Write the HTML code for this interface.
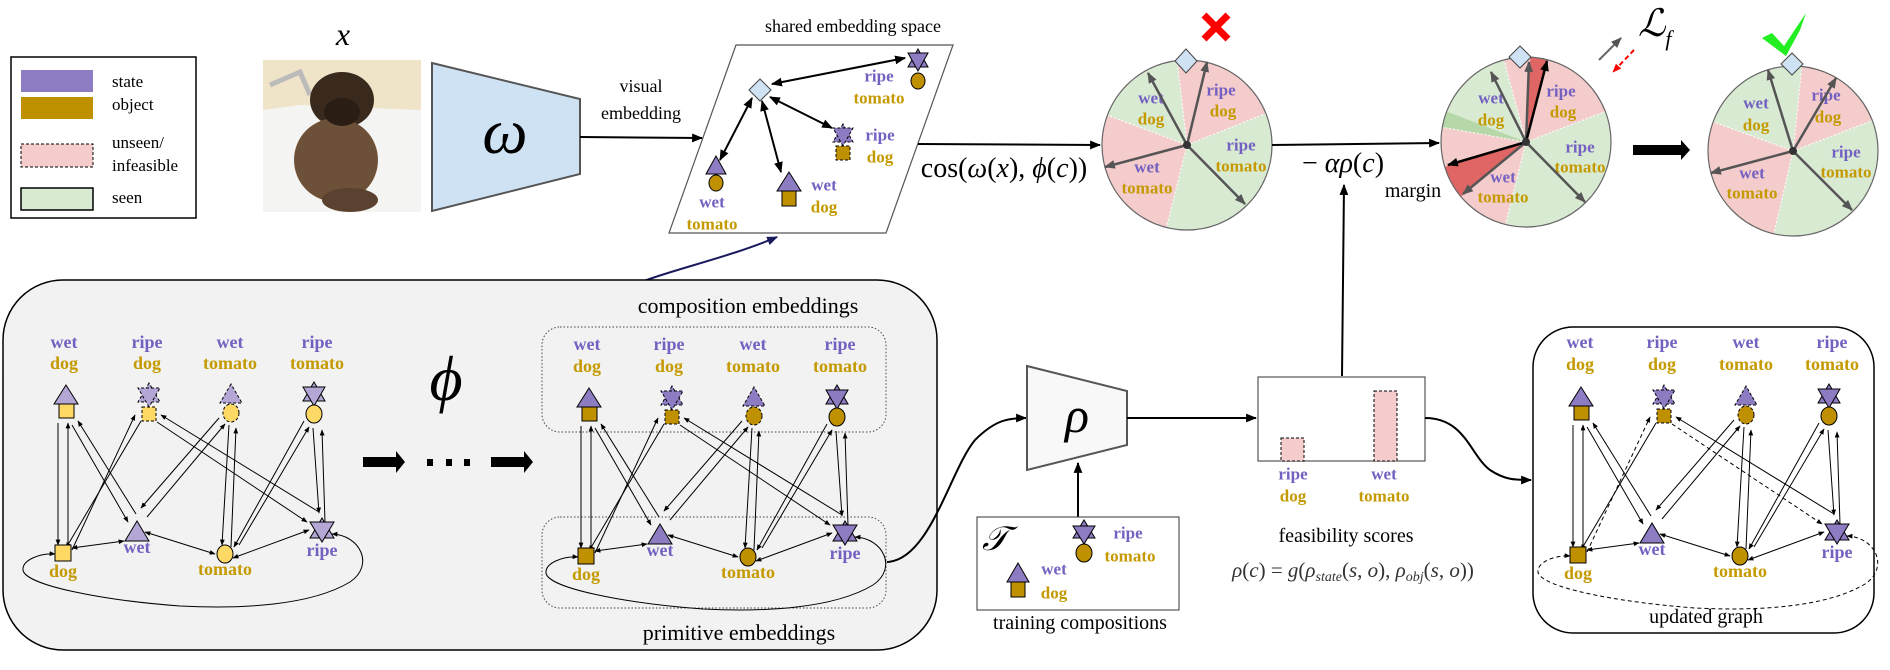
<!DOCTYPE html>
<html><head><meta charset="utf-8"><style>
html,body{margin:0;padding:0;background:#fff;width:1890px;height:670px;overflow:hidden}
svg{display:block}
.t{font-family:"Liberation Serif",serif}
.lb{font-family:"Liberation Serif",serif;font-weight:bold;font-size:18px;text-anchor:middle;dominant-baseline:central}
.p{fill:#7460c0}.g{fill:#c49a00}
.cl{font-family:"Liberation Serif",serif;font-weight:bold;font-size:17px;text-anchor:middle;dominant-baseline:central}
</style></head><body>
<svg width="1890" height="670" viewBox="0 0 1890 670" xmlns="http://www.w3.org/2000/svg">
<defs>
<marker id="ah" viewBox="0 0 10 10" refX="9" refY="5" markerWidth="6" markerHeight="6" markerUnits="userSpaceOnUse" orient="auto-start-reverse"><path d="M0,1 L10,5 L0,9 z" fill="#000"/></marker>
<marker id="am" viewBox="0 0 10 10" refX="9" refY="5" markerWidth="11" markerHeight="11" markerUnits="userSpaceOnUse" orient="auto-start-reverse"><path d="M0,1 L10,5 L0,9 z" fill="#000"/></marker>
<marker id="an" viewBox="0 0 10 10" refX="9" refY="5" markerWidth="11" markerHeight="11" markerUnits="userSpaceOnUse" orient="auto-start-reverse"><path d="M0,1 L10,5 L0,9 z" fill="#1a1a5e"/></marker>
<marker id="ag" viewBox="0 0 10 10" refX="9" refY="5" markerWidth="11" markerHeight="11" markerUnits="userSpaceOnUse" orient="auto"><path d="M0,1 L10,5 L0,9 z" fill="#555"/></marker>
<marker id="ar" viewBox="0 0 10 10" refX="9" refY="5" markerWidth="9" markerHeight="9" markerUnits="userSpaceOnUse" orient="auto"><path d="M0,1 L10,5 L0,9 z" fill="#f00"/></marker>
<g id="edges" stroke="#000" stroke-width="1" fill="none">
<line x1="58" y1="423" x2="58" y2="545" marker-end="url(#ah)"/>
<line x1="68" y1="547" x2="68" y2="423" marker-end="url(#ah)"/>
<line x1="72" y1="425" x2="128" y2="522" marker-end="url(#ah)"/>
<line x1="136" y1="514" x2="78" y2="421" marker-end="url(#ah)"/>
<line x1="141" y1="421" x2="66" y2="548" marker-end="url(#ah)"/>
<line x1="219" y1="418" x2="141" y2="508" marker-end="url(#ah)"/>
<line x1="147" y1="517" x2="225" y2="424" marker-end="url(#ah)"/>
<line x1="229" y1="425" x2="222" y2="545" marker-end="url(#ah)"/>
<line x1="231" y1="547" x2="236" y2="428" marker-end="url(#ah)"/>
<line x1="304" y1="421" x2="234" y2="547" marker-end="url(#ah)"/>
<line x1="239" y1="545" x2="309" y2="427" marker-end="url(#ah)"/>
<line x1="313" y1="428" x2="319" y2="513" marker-end="url(#ah)"/>
<line x1="325" y1="522" x2="322" y2="430" marker-end="url(#ah)"/>
<line x1="161" y1="415" x2="319" y2="512" marker-start="url(#ah)"/>
<line x1="72" y1="548" x2="124" y2="541" marker-start="url(#ah)" marker-end="url(#ah)"/>
<line x1="145" y1="532" x2="215" y2="554" marker-start="url(#ah)" marker-end="url(#ah)"/>
<line x1="233" y1="558" x2="309" y2="530" marker-start="url(#ah)" marker-end="url(#ah)"/>
</g>
</defs>

<!-- legend -->
<rect x="11" y="57" width="185" height="161" fill="#fff" stroke="#000" stroke-width="1.5"/>
<rect x="21" y="70" width="72" height="22" fill="#8e7cc3"/>
<rect x="21" y="97" width="72" height="22" fill="#bf9000"/>
<rect x="21" y="144" width="72" height="23" fill="#f4cccc" stroke="#000" stroke-dasharray="3,2"/>
<rect x="21" y="188" width="72" height="22" fill="#d9ead3" stroke="#000" stroke-width="1.5"/>
<g class="t" font-size="17">
<text x="112" y="87">state</text><text x="112" y="110">object</text>
<text x="112" y="148">unseen/</text><text x="112" y="171">infeasible</text>
<text x="112" y="203">seen</text></g>

<!-- x and photo -->
<text x="343" y="45" class="t" font-size="32" font-style="italic" text-anchor="middle">x</text>
<rect x="263" y="60" width="158" height="152" fill="#efe3c8"/>
<path d="M263,110 L300,105 L421,110 L421,212 L263,212 Z" fill="#f4f4f2"/>
<path d="M270,85 L300,72 L310,95" stroke="#bbb" stroke-width="5" fill="none"/>
<ellipse cx="342" cy="100" rx="32" ry="28" fill="#3a2a1e"/>
<ellipse cx="336" cy="160" rx="42" ry="42" fill="#6d5038"/>
<ellipse cx="350" cy="200" rx="28" ry="12" fill="#5a4130"/>
<ellipse cx="342" cy="112" rx="18" ry="14" fill="#2a1d14"/>

<!-- omega -->
<polygon points="432,63 580,99 580,174 432,211" fill="#cfe2f3" stroke="#555" stroke-width="2"/>
<text x="505" y="153" class="t" font-size="64" font-style="italic" text-anchor="middle">ω</text>
<text x="641" y="92" class="t" font-size="18" text-anchor="middle">visual</text>
<text x="641" y="119" class="t" font-size="18" text-anchor="middle">embedding</text>
<line x1="580" y1="137" x2="702" y2="138" stroke="#000" stroke-width="2" marker-end="url(#am)"/>

<!-- shared embedding space -->
<text x="853" y="32" class="t" font-size="18" text-anchor="middle">shared embedding space</text>
<polygon points="736,45 953,45 886,233 669,233" fill="#fff" stroke="#555" stroke-width="1.2"/>
<g stroke="#000" stroke-width="2" fill="none">
<line x1="772" y1="84" x2="905" y2="58" marker-start="url(#am)" marker-end="url(#am)"/>
<line x1="770" y1="97" x2="832" y2="128" marker-start="url(#am)" marker-end="url(#am)"/>
<line x1="752" y1="98" x2="720" y2="160" marker-start="url(#am)" marker-end="url(#am)"/>
<line x1="762" y1="101" x2="781" y2="172" marker-start="url(#am)" marker-end="url(#am)"/>
</g>
<polygon points="760,79 771,90 760,101 749,90" fill="#cfe2f3" stroke="#444"/>
<!-- ripe tomato -->
<polygon points="918,49 908,67 928,67" fill="#8e7cc3" stroke="#000"/><polygon points="918,71 908,53 928,53" fill="#8e7cc3" stroke="#000"/>
<ellipse cx="918" cy="81" rx="7" ry="8" fill="#bf9000" stroke="#000"/>
<text x="879" y="76" class="cl p">ripe</text><text x="879" y="98" class="cl g">tomato</text>
<!-- ripe dog -->
<polygon points="843,124 833,142 853,142" fill="#8e7cc3" stroke="#000" stroke-dasharray="3,2"/><polygon points="843,146 833,128 853,128" fill="#8e7cc3" stroke="#000" stroke-dasharray="3,2"/>
<rect x="836" y="146" width="14" height="14" fill="#bf9000" stroke="#000" stroke-dasharray="3,2"/>
<text x="880" y="135" class="cl p">ripe</text><text x="880" y="157" class="cl g">dog</text>
<!-- wet tomato -->
<polygon points="716,156 706,174 726,174" fill="#8e7cc3" stroke="#000"/>
<ellipse cx="716" cy="183" rx="7" ry="8" fill="#bf9000" stroke="#000"/>
<text x="712" y="202" class="cl p">wet</text><text x="712" y="224" class="cl g">tomato</text>
<!-- wet dog -->
<polygon points="789,172 777,191 801,191" fill="#8e7cc3" stroke="#000"/>
<rect x="782" y="191" width="14" height="15" fill="#bf9000" stroke="#000"/>
<text x="824" y="185" class="cl p">wet</text><text x="824" y="207" class="cl g">dog</text>

<path d="M587,322 C600,280 700,270 777,237" stroke="#1a1a5e" stroke-width="2" fill="none" marker-end="url(#an)"/>

<!-- cos -->
<line x1="918" y1="144" x2="1100" y2="145" stroke="#000" stroke-width="2" marker-end="url(#am)"/>
<text x="1004" y="177" class="t" font-size="28" text-anchor="middle">cos(<tspan font-style="italic">ω</tspan>(<tspan font-style="italic">x</tspan>), <tspan font-style="italic">ϕ</tspan>(<tspan font-style="italic">c</tspan>))</text>

<!-- circle 1 -->
<g>
<circle cx="1187" cy="145" r="85" fill="#d9ead3"/>
<path d="M1187,145 L1265.9,113.4 A85,85 0 0 0 1177.2,60.6 Z" fill="#f4cccc"/>
<path d="M1187,145 L1107.4,115.3 A85,85 0 0 0 1166.4,227.5 Z" fill="#f4cccc"/>
<g stroke="#fff" stroke-dasharray="2,2" stroke-width="1"><line x1="1187" y1="145" x2="1265.9" y2="113.4"/><line x1="1187" y1="145" x2="1177.2" y2="60.6"/><line x1="1187" y1="145" x2="1107.4" y2="115.3"/><line x1="1187" y1="145" x2="1166.4" y2="227.5"/></g>
<circle cx="1187" cy="145" r="85" fill="none" stroke="#666" stroke-width="1.2"/>
<text x="1151" y="98" class="cl p">wet</text><text x="1151" y="119" class="cl g">dog</text>
<text x="1221" y="90" class="cl p">ripe</text><text x="1223" y="111" class="cl g">dog</text>
<text x="1241" y="145" class="cl p">ripe</text><text x="1241" y="166" class="cl g">tomato</text>
<text x="1147" y="167" class="cl p">wet</text><text x="1147" y="188" class="cl g">tomato</text>
<g stroke="#555" stroke-width="2.5"><line x1="1187" y1="145" x2="1148" y2="73" marker-end="url(#ag)"/><line x1="1187" y1="145" x2="1207" y2="62" marker-end="url(#ag)"/><line x1="1187" y1="145" x2="1105" y2="167" marker-end="url(#ag)"/><line x1="1187" y1="145" x2="1245" y2="204" marker-end="url(#ag)"/></g>
<circle cx="1187" cy="145" r="4" fill="#333"/>
<polygon points="1186,49 1197,61 1186,73 1175,61" fill="#cfe2f3" stroke="#444"/>
<g stroke="#f00" stroke-width="7"><line x1="1204" y1="15" x2="1228" y2="39"/><line x1="1228" y1="15" x2="1204" y2="39"/></g>
</g>

<!-- -alpha rho -->
<line x1="1272" y1="145" x2="1439" y2="143" stroke="#000" stroke-width="2" marker-end="url(#am)"/>
<text x="1343" y="172" class="t" font-size="28" text-anchor="middle">− <tspan font-style="italic">αρ</tspan>(<tspan font-style="italic">c</tspan>)</text>
<line x1="1342" y1="376" x2="1344" y2="185" stroke="#000" stroke-width="2" marker-end="url(#am)"/>
<text x="1413" y="197" class="t" font-size="20" text-anchor="middle">margin</text>

<!-- circle 2 -->
<g>
<circle cx="1526" cy="142" r="85" fill="#d9ead3"/>
<path d="M1526,142 L1605.4,111.5 A85,85 0 0 0 1504,59.9 Z" fill="#f4cccc"/>
<path d="M1526,142 L1442.3,127.2 A85,85 0 0 0 1505.4,224.5 Z" fill="#f4cccc"/>
<path d="M1526,142 L1446.6,111.5 A85,85 0 0 0 1442.3,127.2 Z" fill="#b6d7a8"/>
<path d="M1526,142 L1546.6,59.5 A85,85 0 0 0 1530.4,57.1 Z" fill="#e06666"/>
<path d="M1526,142 L1444.7,166.9 A85,85 0 0 0 1460.9,196.6 Z" fill="#e06666"/>
<g stroke="#fff" stroke-dasharray="2,2" stroke-width="1"><line x1="1526" y1="142" x2="1605.4" y2="111.5"/><line x1="1526" y1="142" x2="1504" y2="59.9"/><line x1="1526" y1="142" x2="1442.3" y2="127.2"/><line x1="1526" y1="142" x2="1505.4" y2="224.5"/></g>
<circle cx="1526" cy="142" r="85" fill="none" stroke="#666" stroke-width="1.2"/>
<text x="1491" y="98" class="cl p">wet</text><text x="1491" y="120" class="cl g">dog</text>
<text x="1561" y="91" class="cl p">ripe</text><text x="1563" y="112" class="cl g">dog</text>
<text x="1580" y="147" class="cl p">ripe</text><text x="1580" y="167" class="cl g">tomato</text>
<text x="1503" y="177" class="cl p">wet</text><text x="1503" y="197" class="cl g">tomato</text>
<g stroke="#555" stroke-width="2.5"><line x1="1526" y1="142" x2="1491" y2="72" marker-end="url(#ag)"/><line x1="1526" y1="142" x2="1529" y2="62" marker-end="url(#ag)"/><line x1="1526" y1="142" x2="1463" y2="194" marker-end="url(#ag)"/><line x1="1526" y1="142" x2="1585" y2="202" marker-end="url(#ag)"/></g>
<g stroke="#000" stroke-width="2.5"><line x1="1526" y1="142" x2="1547" y2="61" marker-end="url(#am)"/><line x1="1526" y1="142" x2="1448" y2="165" marker-end="url(#am)"/></g>
<circle cx="1526" cy="142" r="4" fill="#333"/>
<polygon points="1520,46 1531,57 1520,68 1509,57" fill="#cfe2f3" stroke="#444"/>
</g>
<text x="1638" y="36" class="t" font-size="38" font-style="italic">ℒ<tspan font-size="22" dy="10">f</tspan></text>
<line x1="1599" y1="60" x2="1621" y2="38" stroke="#666" stroke-width="2" marker-end="url(#ag)"/>
<line x1="1634" y1="50" x2="1613" y2="72" stroke="#f00" stroke-width="2" stroke-dasharray="5,3" marker-end="url(#ar)"/>

<polygon points="1633,145 1681,145 1681,140 1690,150 1681,160 1681,155 1633,155" fill="#000"/>

<!-- circle 3 -->
<g>
<circle cx="1793" cy="151" r="85" fill="#d9ead3"/>
<path d="M1793,151 L1872.4,120.5 A85,85 0 0 0 1801.9,66.5 Z" fill="#f4cccc"/>
<path d="M1793,151 L1713.1,121.9 A85,85 0 0 0 1773.9,233.8 Z" fill="#f4cccc"/>
<g stroke="#fff" stroke-dasharray="2,2" stroke-width="1"><line x1="1793" y1="151" x2="1872.4" y2="120.5"/><line x1="1793" y1="151" x2="1801.9" y2="66.5"/><line x1="1793" y1="151" x2="1713.1" y2="121.9"/><line x1="1793" y1="151" x2="1773.9" y2="233.8"/></g>
<circle cx="1793" cy="151" r="85" fill="none" stroke="#666" stroke-width="1.2"/>
<text x="1756" y="103" class="cl p">wet</text><text x="1756" y="125" class="cl g">dog</text>
<text x="1826" y="95" class="cl p">ripe</text><text x="1828" y="117" class="cl g">dog</text>
<text x="1846" y="152" class="cl p">ripe</text><text x="1846" y="172" class="cl g">tomato</text>
<text x="1752" y="173" class="cl p">wet</text><text x="1752" y="193" class="cl g">tomato</text>
<g stroke="#555" stroke-width="2.5"><line x1="1793" y1="151" x2="1768" y2="70" marker-end="url(#ag)"/><line x1="1793" y1="151" x2="1836" y2="78" marker-end="url(#ag)"/><line x1="1793" y1="151" x2="1711" y2="173" marker-end="url(#ag)"/><line x1="1793" y1="151" x2="1852" y2="210" marker-end="url(#ag)"/></g>
<circle cx="1793" cy="151" r="4" fill="#333"/>
<polygon points="1792,53 1803,64 1792,75 1781,64" fill="#cfe2f3" stroke="#444"/>
<path d="M1762,38 L1772,33 L1784,46 L1806,13 L1800,30 L1786,56 Z" fill="#22ee22"/>
</g>

<!-- gray box -->
<rect x="3" y="280" width="934" height="370" rx="60" fill="#f2f2f2" stroke="#000" stroke-width="1.5"/>
<text x="748" y="313" class="t" font-size="22" text-anchor="middle">composition embeddings</text>
<text x="739" y="640" class="t" font-size="22" text-anchor="middle">primitive embeddings</text>
<rect x="542" y="327" width="344" height="105" rx="18" fill="none" stroke="#444" stroke-dasharray="1.5,2"/>
<rect x="542" y="517" width="344" height="91" rx="18" fill="none" stroke="#444" stroke-dasharray="1.5,2"/>

<!-- left graph -->
<use href="#edges"/>
<line x1="72" y1="550" x2="135" y2="415" stroke="#000" marker-end="url(#ah)"/>
<line x1="157" y1="422" x2="307" y2="522" stroke="#000" marker-end="url(#ah)"/>
<path d="M332,534 C360,535 375,565 350,582 C310,606 240,609 180,606 C100,600 25,585 23,570 C22,560 40,553 55,554" fill="none" stroke="#000" marker-start="url(#ah)" marker-end="url(#ah)"/>
<g stroke="#000">
<polygon points="66,385 54,404 78,404" fill="#b4a7d6"/><rect x="59" y="404" width="15" height="14" fill="#ffd966"/>
<polygon points="149,383 138,402 160,402" fill="#b4a7d6" stroke-dasharray="3,2"/><polygon points="149,407 138,388 160,388" fill="#b4a7d6" stroke-dasharray="3,2"/><rect x="142" y="407" width="14" height="14" fill="#ffd966" stroke-dasharray="3,2"/>
<polygon points="231,384 220,403 242,403" fill="#b4a7d6" stroke-dasharray="3,2"/><ellipse cx="231" cy="413" rx="8" ry="9" fill="#ffd966" stroke-dasharray="3,2"/>
<polygon points="314,382 303,401 325,401" fill="#b4a7d6"/><polygon points="314,406 303,387 325,387" fill="#b4a7d6"/><ellipse cx="314" cy="414" rx="8" ry="9" fill="#ffd966"/>
<rect x="55" y="545" width="16" height="16" fill="#ffd966"/>
<polygon points="137,521 125,541 149,541" fill="#b4a7d6"/>
<ellipse cx="225" cy="554" rx="8" ry="9" fill="#ffd966"/>
<polygon points="322,518 310,538 334,538" fill="#b4a7d6"/><polygon points="322,542 310,522 334,522" fill="#b4a7d6"/>
</g>
<text x="64" y="342" class="lb p">wet</text><text x="64" y="363" class="lb g">dog</text>
<text x="147" y="342" class="lb p">ripe</text><text x="147" y="363" class="lb g">dog</text>
<text x="230" y="342" class="lb p">wet</text><text x="230" y="363" class="lb g">tomato</text>
<text x="317" y="342" class="lb p">ripe</text><text x="317" y="363" class="lb g">tomato</text>
<text x="63" y="571" class="lb g">dog</text><text x="137" y="547" class="lb p">wet</text>
<text x="225" y="569" class="lb g">tomato</text><text x="322" y="550" class="lb p">ripe</text>

<text x="446" y="400" class="t" font-size="64" font-style="italic" text-anchor="middle">ϕ</text>
<polygon points="363,457 396,457 396,451 405,462 396,473 396,467 363,467" fill="#000"/>
<rect x="427" y="459" width="6" height="7" fill="#000"/><rect x="446" y="459" width="6" height="7" fill="#000"/><rect x="464" y="459" width="6" height="7" fill="#000"/>
<polygon points="491,457 524,457 524,451 533,462 524,473 524,467 491,467" fill="#000"/>

<!-- right graph in gray box -->
<g transform="translate(523,3)">
<use href="#edges"/>
<line x1="72" y1="550" x2="135" y2="415" stroke="#000" marker-end="url(#ah)"/>
<line x1="157" y1="422" x2="307" y2="522" stroke="#000" marker-end="url(#ah)"/>
<path d="M332,534 C360,535 375,565 350,582 C310,606 240,609 180,606 C100,600 25,585 23,570 C22,560 40,553 55,554" fill="none" stroke="#000" marker-start="url(#ah)" marker-end="url(#ah)"/>
<g stroke="#000">
<polygon points="66,385 54,404 78,404" fill="#8e7cc3"/><rect x="59" y="404" width="15" height="14" fill="#bf9000"/>
<polygon points="149,383 138,402 160,402" fill="#8e7cc3" stroke-dasharray="3,2"/><polygon points="149,407 138,388 160,388" fill="#8e7cc3" stroke-dasharray="3,2"/><rect x="142" y="407" width="14" height="14" fill="#bf9000" stroke-dasharray="3,2"/>
<polygon points="231,384 220,403 242,403" fill="#8e7cc3" stroke-dasharray="3,2"/><ellipse cx="231" cy="413" rx="8" ry="9" fill="#bf9000" stroke-dasharray="3,2"/>
<polygon points="314,382 303,401 325,401" fill="#8e7cc3"/><polygon points="314,406 303,387 325,387" fill="#8e7cc3"/><ellipse cx="314" cy="414" rx="8" ry="9" fill="#bf9000"/>
<rect x="55" y="545" width="16" height="16" fill="#bf9000"/>
<polygon points="137,521 125,541 149,541" fill="#8e7cc3"/>
<ellipse cx="225" cy="554" rx="8" ry="9" fill="#bf9000"/>
<polygon points="322,518 310,538 334,538" fill="#8e7cc3"/><polygon points="322,542 310,522 334,522" fill="#8e7cc3"/>
</g>
</g>
<text x="587" y="344" class="lb p">wet</text><text x="587" y="366" class="lb g">dog</text>
<text x="669" y="344" class="lb p">ripe</text><text x="669" y="366" class="lb g">dog</text>
<text x="753" y="344" class="lb p">wet</text><text x="753" y="366" class="lb g">tomato</text>
<text x="840" y="344" class="lb p">ripe</text><text x="840" y="366" class="lb g">tomato</text>
<text x="586" y="574" class="lb g">dog</text><text x="660" y="550" class="lb p">wet</text>
<text x="748" y="572" class="lb g">tomato</text><text x="845" y="553" class="lb p">ripe</text>

<!-- rho -->
<path d="M887,562 C930,560 950,470 975,440 C995,420 1008,418 1026,418" fill="none" stroke="#000" stroke-width="2" marker-end="url(#am)"/>
<polygon points="1027,366 1127,391 1127,445 1027,470" fill="#f8f8f8" stroke="#555" stroke-width="2"/>
<text x="1077" y="432" class="t" font-size="50" font-style="italic" text-anchor="middle">ρ</text>
<line x1="1127" y1="418" x2="1256" y2="418" stroke="#000" stroke-width="2" marker-end="url(#am)"/>
<line x1="1078" y1="517" x2="1078" y2="463" stroke="#000" stroke-width="2" marker-end="url(#am)"/>

<!-- T box -->
<rect x="977" y="517" width="202" height="93" fill="#fff" stroke="#555" stroke-width="1.2"/>
<text x="995" y="550" class="t" font-size="34" font-style="italic" text-anchor="middle">𝒯</text>
<polygon points="1084,520 1073,538 1095,538" fill="#8e7cc3" stroke="#000"/><polygon points="1084,544 1073,526 1095,526" fill="#8e7cc3" stroke="#000"/>
<ellipse cx="1084" cy="553" rx="8" ry="9" fill="#bf9000" stroke="#000"/>
<text x="1128" y="533" class="cl p">ripe</text><text x="1130" y="556" class="cl g">tomato</text>
<polygon points="1018,563 1007,582 1029,582" fill="#8e7cc3" stroke="#000"/>
<rect x="1011" y="582" width="14" height="15" fill="#bf9000" stroke="#000"/>
<text x="1054" y="569" class="cl p">wet</text><text x="1054" y="593" class="cl g">dog</text>
<text x="1080" y="629" class="t" font-size="20" text-anchor="middle">training compositions</text>

<!-- feasibility -->
<rect x="1258" y="377" width="167" height="84" fill="#fff" stroke="#555" stroke-width="1.2"/>
<rect x="1281" y="438" width="23" height="23" fill="#f4cccc" stroke="#000" stroke-dasharray="3,2"/>
<rect x="1374" y="391" width="23" height="70" fill="#f4cccc" stroke="#000" stroke-dasharray="3,2"/>
<text x="1293" y="474" class="cl p">ripe</text><text x="1293" y="496" class="cl g">dog</text>
<text x="1384" y="474" class="cl p">wet</text><text x="1384" y="496" class="cl g">tomato</text>
<text x="1346" y="542" class="t" font-size="20" text-anchor="middle">feasibility scores</text>
<text x="1353" y="577" class="t" font-size="21" font-style="italic" text-anchor="middle" fill="#333">ρ<tspan font-style="normal">(</tspan>c<tspan font-style="normal">) = </tspan>g<tspan font-style="normal">(</tspan>ρ<tspan font-size="14" dy="4">state</tspan><tspan dy="-4" font-style="normal">(</tspan>s<tspan font-style="normal">, </tspan>o<tspan font-style="normal">), </tspan>ρ<tspan font-size="14" dy="4">obj</tspan><tspan dy="-4" font-style="normal">(</tspan>s<tspan font-style="normal">, </tspan>o<tspan font-style="normal">))</tspan></text>
<path d="M1425,418 C1465,418 1470,455 1490,470 C1505,480 1515,480 1531,480" fill="none" stroke="#000" stroke-width="2" marker-end="url(#am)"/>

<!-- updated graph -->
<rect x="1533" y="327" width="341" height="306" rx="40" fill="#fff" stroke="#000" stroke-width="1.5"/>
<g transform="translate(1515,2)">
<use href="#edges"/>
<line x1="72" y1="550" x2="135" y2="415" stroke="#000" stroke-dasharray="4,3" marker-end="url(#ah)"/>
<line x1="157" y1="422" x2="307" y2="522" stroke="#000" stroke-dasharray="4,3" marker-end="url(#ah)"/>
<path d="M332,534 C360,535 375,565 350,582 C310,606 240,609 180,606 C100,600 25,585 23,570 C22,560 40,553 55,554" fill="none" stroke="#000" stroke-dasharray="4,3" marker-start="url(#ah)" marker-end="url(#ah)"/>
<g stroke="#000">
<polygon points="66,385 54,404 78,404" fill="#8e7cc3"/><rect x="59" y="404" width="15" height="14" fill="#bf9000"/>
<polygon points="149,383 138,402 160,402" fill="#8e7cc3" stroke-dasharray="3,2"/><polygon points="149,407 138,388 160,388" fill="#8e7cc3" stroke-dasharray="3,2"/><rect x="142" y="407" width="14" height="14" fill="#bf9000" stroke-dasharray="3,2"/>
<polygon points="231,384 220,403 242,403" fill="#8e7cc3" stroke-dasharray="3,2"/><ellipse cx="231" cy="413" rx="8" ry="9" fill="#bf9000" stroke-dasharray="3,2"/>
<polygon points="314,382 303,401 325,401" fill="#8e7cc3"/><polygon points="314,406 303,387 325,387" fill="#8e7cc3"/><ellipse cx="314" cy="414" rx="8" ry="9" fill="#bf9000"/>
<rect x="55" y="545" width="16" height="16" fill="#bf9000"/>
<polygon points="137,521 125,541 149,541" fill="#8e7cc3"/>
<ellipse cx="225" cy="554" rx="8" ry="9" fill="#bf9000"/>
<polygon points="322,518 310,538 334,538" fill="#8e7cc3"/><polygon points="322,542 310,522 334,522" fill="#8e7cc3"/>
</g>
</g>
<text x="1580" y="342" class="lb p">wet</text><text x="1580" y="364" class="lb g">dog</text>
<text x="1662" y="342" class="lb p">ripe</text><text x="1662" y="364" class="lb g">dog</text>
<text x="1746" y="342" class="lb p">wet</text><text x="1746" y="364" class="lb g">tomato</text>
<text x="1832" y="342" class="lb p">ripe</text><text x="1832" y="364" class="lb g">tomato</text>
<text x="1578" y="573" class="lb g">dog</text><text x="1652" y="549" class="lb p">wet</text>
<text x="1740" y="571" class="lb g">tomato</text><text x="1837" y="552" class="lb p">ripe</text>
<text x="1706" y="623" class="t" font-size="20" text-anchor="middle">updated graph</text>
</svg>
</body></html>
